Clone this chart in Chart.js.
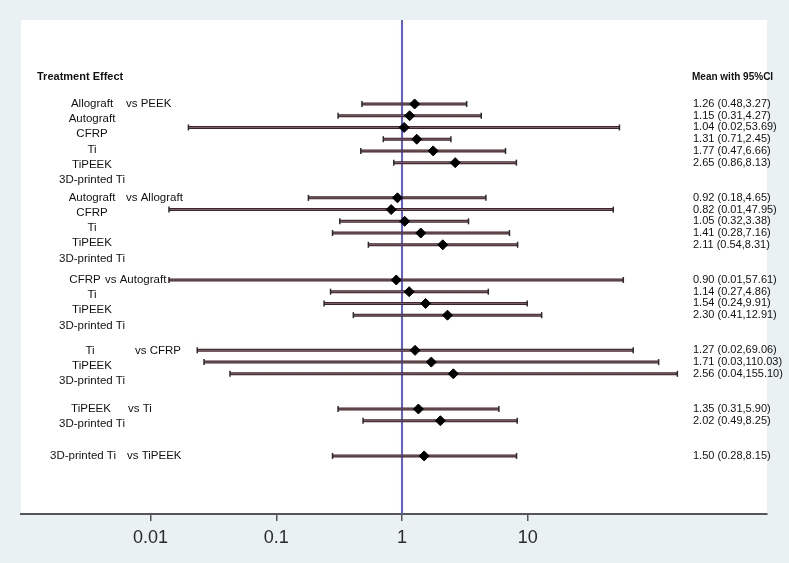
<!DOCTYPE html>
<html>
<head>
<meta charset="utf-8">
<script src="https://cdn.jsdelivr.net/npm/chart.js@4/dist/chart.umd.min.js"></script>
<style>
  body { margin: 0; background: #e9f1f3; }
  canvas { display: block; }
</style>
</head>
<body>
<canvas id="forest-chart" width="789" height="563"></canvas>
<script>
// Treatments and comparators (each group: later treatments vs one comparator)
const treatments = ['Allograft', 'Autograft', 'CFRP', 'Ti', 'TiPEEK', '3D-printed Ti'];
const comparators = ['PEEK', 'Allograft', 'Autograft', 'CFRP', 'Ti', 'TiPEEK'];

const means = [1.26, 1.15, 1.04, 1.31, 1.77, 2.65,
               0.92, 0.82, 1.05, 1.41, 2.11,
               0.90, 1.14, 1.54, 2.30,
               1.27, 1.71, 2.56,
               1.35, 2.02,
               1.50];
const lower = [0.48, 0.31, 0.02, 0.71, 0.47, 0.86,
               0.18, 0.014, 0.32, 0.28, 0.54,
               0.014, 0.27, 0.24, 0.41,
               0.0235, 0.0266, 0.0428,
               0.31, 0.49,
               0.28];
const upper = [3.27, 4.27, 53.69, 2.45, 6.66, 8.13,
               4.65, 47.95, 3.38, 7.16, 8.31,
               57.61, 4.86, 9.91, 12.91,
               69.06, 110.03, 155.10,
               5.90, 8.25,
               8.15];

// Right column text
const ciLabels = ['1.26 (0.48,3.27)', '1.15 (0.31,4.27)', '1.04 (0.02,53.69)', '1.31 (0.71,2.45)', '1.77 (0.47,6.66)', '2.65 (0.86,8.13)',
                  '0.92 (0.18,4.65)', '0.82 (0.01,47.95)', '1.05 (0.32,3.38)', '1.41 (0.28,7.16)', '2.11 (0.54,8.31)',
                  '0.90 (0.01,57.61)', '1.14 (0.27,4.86)', '1.54 (0.24,9.91)', '2.30 (0.41,12.91)',
                  '1.27 (0.02,69.06)', '1.71 (0.03,110.03)', '2.56 (0.04,155.10)',
                  '1.35 (0.31,5.90)', '2.02 (0.49,8.25)',
                  '1.50 (0.28,8.15)'];

const xTicks = [0.01, 0.1, 1, 10];

// ---------------- LAYOUT ----------------
const FONT = "'Liberation Sans', Arial, sans-serif";
const GROUP_GAP = 2;        // empty rows between groups
const LABEL_STEP = 1.29;    // left labels are spaced a bit wider than rows
const nameCenter = 92;
const firstNameCenter = [92, 92, 85, 90, 91, 83];
const vsX = [126, 126, 105, 135, 128, 127];

// row index of every estimate and start row of every group
const groupStart = [];
const rowY = [];
let row = 0;
comparators.forEach((c, g) => {
    groupStart.push(row);
    for (let k = g; k < treatments.length; k++) rowY.push(row++);
    row += GROUP_GAP;
});

const forestPlugin = {
    id: 'forest',
    beforeDraw(chart) {
        const { ctx, chartArea: a } = chart;
        ctx.save();
        ctx.fillStyle = '#ffffff';
        ctx.fillRect(a.left, a.top, a.right - a.left, a.bottom - a.top);
        ctx.restore();
    },
    beforeDatasetsDraw(chart) {
        const { ctx, chartArea: a } = chart;
        const xs = chart.scales.x, ys = chart.scales.y;
        ctx.save();

        // reference line at 1
        const x1 = xs.getPixelForValue(1);
        ctx.strokeStyle = '#5a5aff';
        ctx.lineWidth = 2;
        ctx.beginPath();
        ctx.moveTo(x1, a.top);
        ctx.lineTo(x1, a.bottom);
        ctx.stroke();

        // confidence intervals
        means.forEach((m, i) => {
            const y = ys.getPixelForValue(rowY[i]);
            const l = xs.getPixelForValue(lower[i]);
            const u = xs.getPixelForValue(upper[i]);
            ctx.strokeStyle = '#3a262a';
            ctx.lineWidth = 3;
            ctx.beginPath(); ctx.moveTo(l, y); ctx.lineTo(u, y); ctx.stroke();
            ctx.strokeStyle = '#8e5f66';
            ctx.lineWidth = 1;
            ctx.beginPath(); ctx.moveTo(l, y); ctx.lineTo(u, y); ctx.stroke();
            ctx.strokeStyle = '#2a2a2a';
            ctx.lineWidth = 1.5;
            [l, u].forEach(px => {
                ctx.beginPath(); ctx.moveTo(px, y - 3); ctx.lineTo(px, y + 3); ctx.stroke();
            });
        });
        ctx.restore();
    },
    afterDatasetsDraw(chart) {
        const { ctx } = chart;
        const ys = chart.scales.y;
        ctx.save();
        ctx.fillStyle = '#111111';
        ctx.textBaseline = 'middle';

        const headY = ys.getPixelForValue(-2.3);
        ctx.font = 'bold 11px ' + FONT;
        ctx.textAlign = 'left';
        ctx.fillText('Treatment Effect', 37, headY);
        ctx.font = 'bold 10px ' + FONT;
        ctx.fillText('Mean with 95%CI', 692, headY);

        // right column
        ctx.font = '11px ' + FONT;
        ciLabels.forEach((t, i) => ctx.fillText(t, 693, ys.getPixelForValue(rowY[i])));

        // left column
        ctx.font = '11.5px ' + FONT;
        comparators.forEach((c, g) => {
            for (let k = g; k < treatments.length; k++) {
                const y = ys.getPixelForValue(groupStart[g] + (k - g) * LABEL_STEP);
                ctx.textAlign = 'center';
                ctx.fillText(treatments[k], k === g ? firstNameCenter[g] : nameCenter, y);
                if (k === g) {
                    ctx.textAlign = 'left';
                    ctx.fillText('vs ' + c, vsX[g], y);
                }
            }
        });
        ctx.restore();
    }
};

const ctx = document.getElementById('forest-chart').getContext('2d');
new Chart(ctx, {
    type: 'scatter',
    data: {
        datasets: [{
            data: means.map((m, i) => ({ x: m, y: rowY[i] })),
            pointStyle: 'rectRot',
            radius: 5,
            borderWidth: 1,
            backgroundColor: '#000000',
            borderColor: '#000000'
        }]
    },
    options: {
        responsive: false,
        animation: false,
        layout: { padding: { left: 21, right: 22, top: 20, bottom: 8.4 } },
        plugins: { legend: { display: false }, tooltip: { enabled: false } },
        scales: {
            x: {
                type: 'logarithmic',
                min: 0.000931,
                max: 801,
                afterBuildTicks: s => { s.ticks = xTicks.map(v => ({ value: v })); },
                ticks: {
                    callback: v => String(v),
                    font: { size: 18, family: FONT },
                    color: '#2a2a2a',
                    padding: 6,
                    maxRotation: 0,
                    autoSkip: false
                },
                grid: { drawOnChartArea: false, tickLength: 7, color: '#555555', lineWidth: 1.5 },
                border: { color: '#555555', width: 2 }
            },
            y: {
                type: 'linear',
                reverse: true,
                min: -7.16,
                max: 34.95,
                display: false
            }
        }
    },
    plugins: [forestPlugin]
});
</script>
</body>
</html>
